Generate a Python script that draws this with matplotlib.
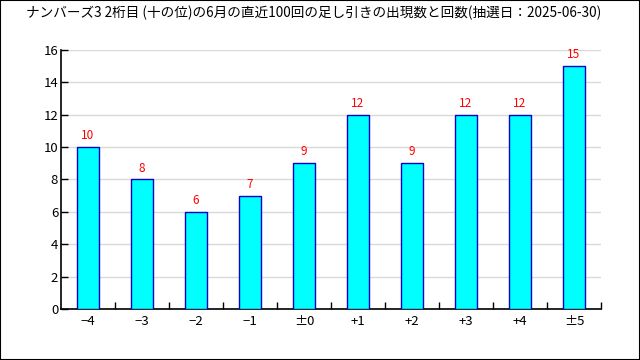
import matplotlib
matplotlib.use("Agg")
import matplotlib.pyplot as plt
from matplotlib.patches import Rectangle

plt.rcParams['font.family'] = ['Noto Sans CJK JP', 'DejaVu Sans']

title = "ナンバーズ3 2桁目 (十の位)の6月の直近100回の足し引きの出現数と回数(抽選日：2025-06-30)"
categories = ["−4", "−3", "−2", "−1", "±0", "+1", "+2", "+3", "+4", "±5"]
counts = [10, 8, 6, 7, 9, 12, 9, 12, 12, 15]
yticks = [0, 2, 4, 6, 8, 10, 12, 14, 16]

fig = plt.figure(figsize=(6.4, 3.6), dpi=100)
fig.patches.append(Rectangle((0, 0), 1, 1, transform=fig.transFigure, fill=False,
                             edgecolor='black', linewidth=1.5))
ax = fig.add_axes([0.0953, 0.1417, 0.8437, 0.7194])

x = list(range(len(categories)))
ax.bar(x, counts, width=0.41, color='#00ffff', edgecolor='#0000cc', linewidth=1, zorder=3)
for xi, v in zip(x, counts):
    ax.text(xi, v + 0.3, str(v), ha='center', va='bottom', color='red', fontsize=8.5)

ax.set_xlim(-0.5, len(categories) - 0.5)
ax.set_ylim(0, 16)
ax.set_yticks(yticks)
ax.set_yticklabels([str(t) for t in yticks], fontsize=9.5)
ax.set_xticks(x)
ax.set_xticklabels(categories, fontsize=9.5)
ax.tick_params(axis='x', which='major', length=0, pad=4)
ax.set_xticks([i + 0.5 for i in x], minor=True)
ax.tick_params(axis='x', which='minor', length=5, direction='in', width=1)
ax.tick_params(axis='y', length=5, direction='in', width=1, pad=2)
ax.grid(axis='y', color='#d9d9d9', linewidth=1, zorder=0)
for s in ['top', 'right']:
    ax.spines[s].set_visible(False)
for s in ['left', 'bottom']:
    ax.spines[s].set_linewidth(1.2)

fig.text(0.49, 0.965, title, ha='center', va='center', fontsize=9.8)

fig.savefig("out.png", dpi=100)
